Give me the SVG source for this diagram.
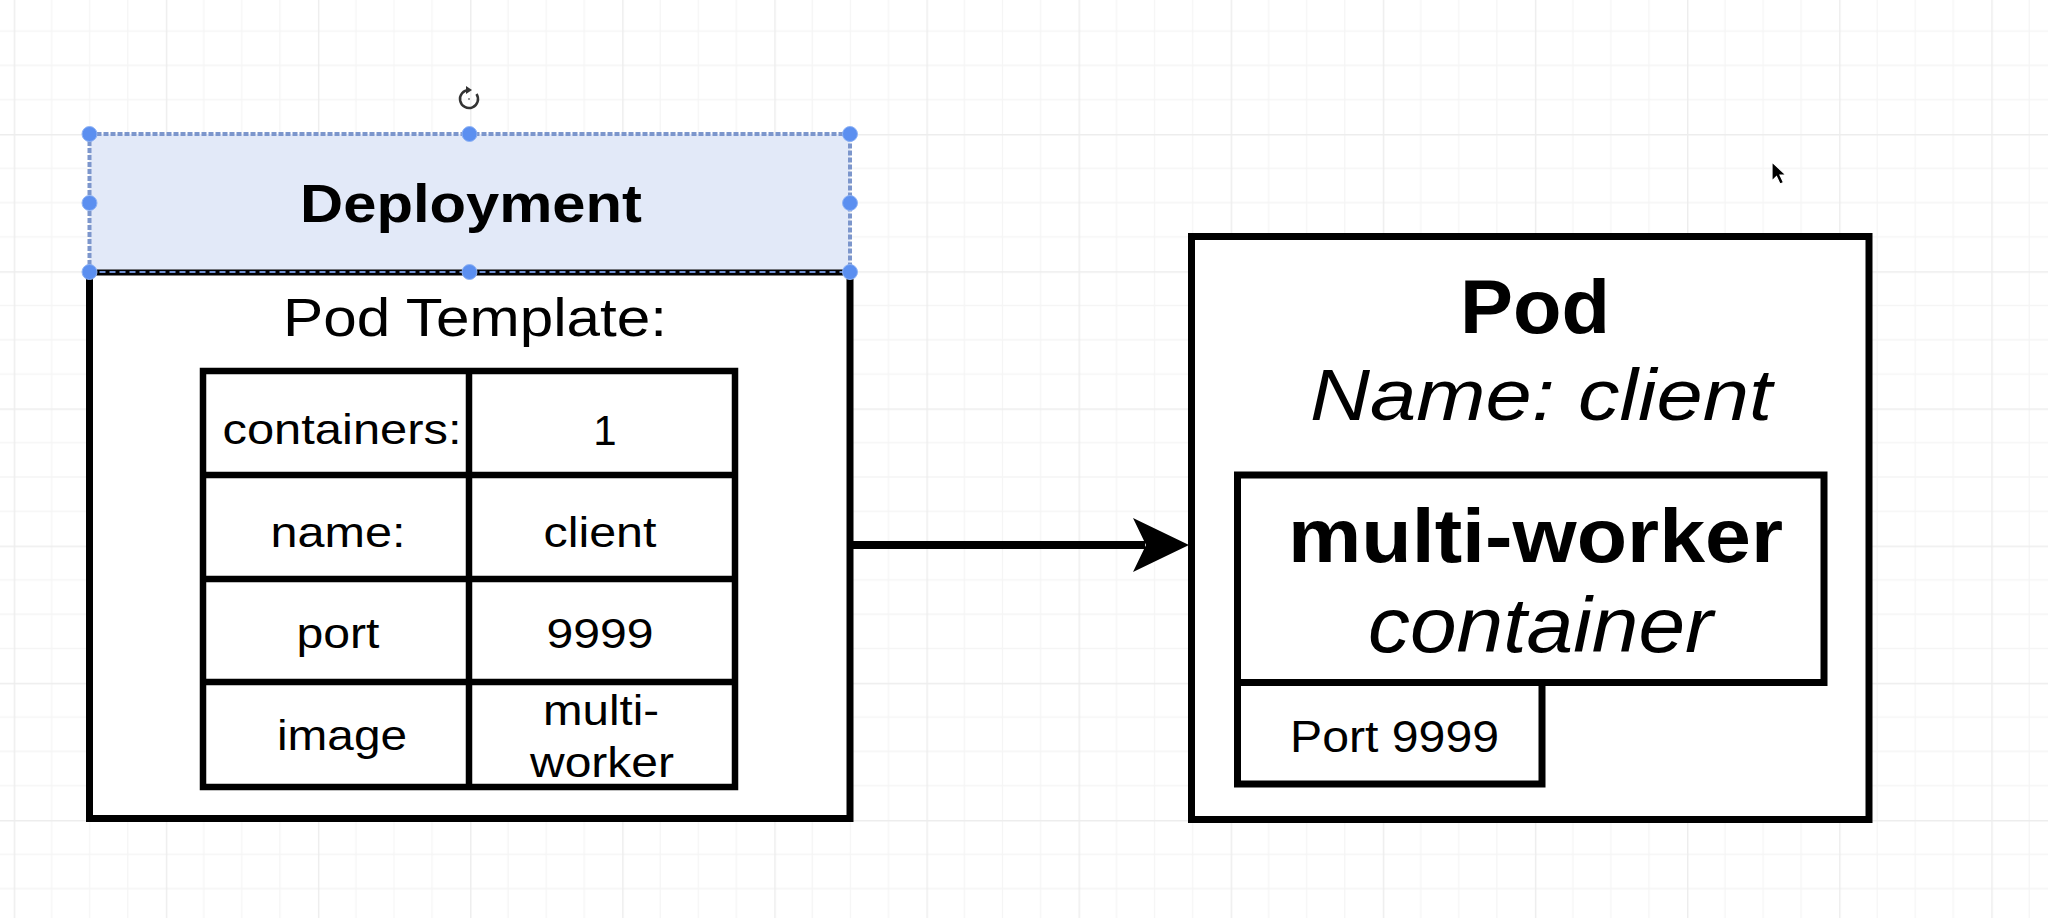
<svg xmlns="http://www.w3.org/2000/svg" width="2048" height="918" viewBox="0 0 2048 918">
  <defs>
    <pattern id="grid" patternUnits="userSpaceOnUse" x="13.7" y="134" width="152.12" height="137.2">
      <path d="M38.03 0V137.2M76.06 0V137.2M114.09 0V137.2M0 34.3H152.12M0 68.6H152.12M0 102.9H152.12" stroke="#f5f5f5" stroke-width="1.3" fill="none"/>
      <path d="M0.75 0V137.2M0 0.75H152.12" stroke="#ededed" stroke-width="1.4" fill="none"/>
    </pattern>
    <style>
      .box { fill: #ffffff; stroke: #000000; stroke-width: 7; }
      .cell { fill: none; stroke: #000000; stroke-width: 6.5; }
      .t { font-family: "Liberation Sans", Arial, Helvetica, sans-serif; fill: #000000; text-anchor: middle; }
      .tb { font-size: 42px; }
      .bold { font-weight: bold; }
      .ital { font-style: italic; }
      .handle { fill: #5b8ff0; stroke: #8fb3f5; stroke-width: 1; }
    </style>
  </defs>

  <rect x="0" y="0" width="2048" height="918" fill="#ffffff"/>
  <rect x="0" y="0" width="2048" height="918" fill="url(#grid)"/>

  <g id="connectors">
    <line x1="850" y1="545" x2="1145" y2="545" stroke="#000000" stroke-width="8"/>
    <polygon points="1189,545 1133,518 1146,545 1133,572" fill="#000000"/>
  </g>

  <g id="deployment">
    <rect class="box" x="89.5" y="272" width="760.5" height="546.5"/>
    <rect x="89.5" y="134" width="760.5" height="138" fill="#e2e9f8" stroke="#7c96cc" stroke-width="4" stroke-dasharray="5 2"/>
    <line x1="89.5" y1="272" x2="850" y2="272" stroke="#000000" stroke-width="5"/>
    <line x1="89.5" y1="272" x2="850" y2="272" stroke="#6f8fd0" stroke-width="2" stroke-dasharray="6 4"/>
    <text class="t bold" x="471" y="222" font-size="54" textLength="342" lengthAdjust="spacingAndGlyphs">Deployment</text>
    <text class="t" x="475" y="336" font-size="53" textLength="384" lengthAdjust="spacingAndGlyphs">Pod Template:</text>
    <g id="pod-template-table">
      <rect class="cell" x="203" y="371" width="532" height="416"/>
      <line class="cell" x1="469" y1="371" x2="469" y2="787"/>
      <line class="cell" x1="203" y1="475" x2="735" y2="475"/>
      <line class="cell" x1="203" y1="579" x2="735" y2="579"/>
      <line class="cell" x1="203" y1="682" x2="735" y2="682"/>
      <text class="t tb" x="342" y="444" textLength="239" lengthAdjust="spacingAndGlyphs">containers:</text>
      <text class="t tb" x="605" y="445">1</text>
      <text class="t tb" x="338" y="547" textLength="135" lengthAdjust="spacingAndGlyphs">name:</text>
      <text class="t tb" x="600" y="547" textLength="113" lengthAdjust="spacingAndGlyphs">client</text>
      <text class="t tb" x="338" y="648" textLength="83" lengthAdjust="spacingAndGlyphs">port</text>
      <text class="t tb" x="600" y="648" textLength="107" lengthAdjust="spacingAndGlyphs">9999</text>
      <text class="t tb" x="342" y="750" textLength="130" lengthAdjust="spacingAndGlyphs">image</text>
      <text class="t tb" x="601" y="725" textLength="116" lengthAdjust="spacingAndGlyphs">multi-</text>
      <text class="t tb" x="602" y="777" textLength="144" lengthAdjust="spacingAndGlyphs">worker</text>
    </g>
    <g id="selection-handles">
      <circle class="handle" cx="89.5" cy="134" r="7.5"/>
      <circle class="handle" cx="469.5" cy="134" r="7.5"/>
      <circle class="handle" cx="850" cy="134" r="7.5"/>
      <circle class="handle" cx="89.5" cy="203" r="7.5"/>
      <circle class="handle" cx="850" cy="203" r="7.5"/>
      <circle class="handle" cx="89.5" cy="272" r="7.5"/>
      <circle class="handle" cx="469.5" cy="272" r="7.5"/>
      <circle class="handle" cx="850" cy="272" r="7.5"/>
      <path d="M476.5 94 A 9 9 0 1 1 469 90" fill="none" stroke="#333333" stroke-width="2.5"/>
      <polygon points="466,86 472,90 466,94" fill="#333333"/>
      <circle cx="469" cy="99" r="1" fill="#777777"/>
    </g>
  </g>

  <g id="pod">
    <rect class="box" x="1191.5" y="236.5" width="677.5" height="583"/>
    <text class="t bold" x="1535" y="333" font-size="76" textLength="150" lengthAdjust="spacingAndGlyphs">Pod</text>
    <text class="t ital" x="1541" y="420" font-size="72" textLength="462" lengthAdjust="spacingAndGlyphs">Name: client</text>
  </g>

  <g id="container">
    <rect class="box" x="1237.5" y="475" width="586.5" height="207.5" stroke-width="6.5"/>
    <text class="t bold" x="1535.5" y="562" font-size="76" textLength="495" lengthAdjust="spacingAndGlyphs">multi-worker</text>
    <text class="t ital" x="1540.5" y="652" font-size="78" textLength="345" lengthAdjust="spacingAndGlyphs">container</text>
  </g>

  <g id="port">
    <rect class="box" x="1237.5" y="682.5" width="304.5" height="101.5" stroke-width="6.5"/>
    <text class="t" x="1394.5" y="752" font-size="44" textLength="209" lengthAdjust="spacingAndGlyphs">Port 9999</text>
  </g>

  <g id="cursor">
    <polygon points="1772,162 1772,181 1776.5,176.5 1780,184 1783.5,182.5 1780,175 1786,175" fill="#000000" stroke="#ffffff" stroke-width="1.2"/>
  </g>
</svg>
